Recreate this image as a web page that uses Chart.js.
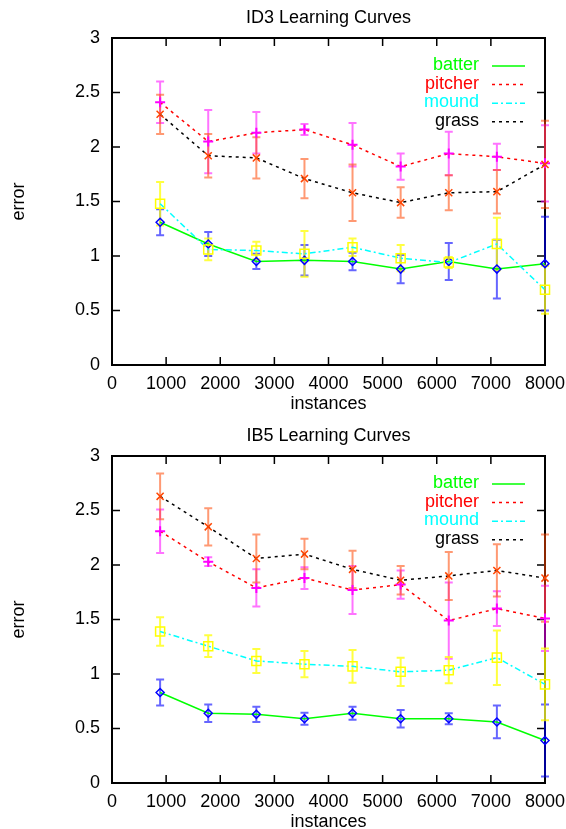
<!DOCTYPE html>
<html>
<head>
<meta charset="utf-8">
<title>Learning Curves</title>
<script src="https://cdn.jsdelivr.net/npm/chart.js@4.4.0/dist/chart.umd.min.js"></script>
<style>
	html, body { margin:0; padding:0; background:#fff; overflow:hidden; }
	.box { position:absolute; left:0; width:566px; height:418px; }
</style>
</head>
<body>
<div class="box" style="top:0"><canvas id="id3" width="566" height="418"></canvas></div>
<div class="box" style="top:418px"><canvas id="ib5" width="566" height="418"></canvas></div>
<script>
// data
var instances = [889, 1778, 2667, 3556, 4444, 5333, 6222, 7111, 8000];
var xTicks = [0, 1000, 2000, 3000, 4000, 5000, 6000, 7000, 8000];
var yTicks = [0, 0.5, 1, 1.5, 2, 2.5, 3];
var seriesNames = ['batter', 'pitcher', 'mound', 'grass'];

// ID3
var id3Batter = [1.31, 1.11, 0.95, 0.96, 0.95, 0.88, 0.95, 0.88, 0.93];
var id3BatterErr = [0.12, 0.11, 0.07, 0.14, 0.08, 0.13, 0.17, 0.27, 0.43];
var id3Pitcher = [2.41, 2.05, 2.13, 2.16, 2.02, 1.82, 1.94, 1.91, 1.85];
var id3PitcherErr = [0.19, 0.29, 0.19, 0.05, 0.2, 0.12, 0.2, 0.12, 0.35];
var id3Mound = [1.48, 1.06, 1.05, 1.02, 1.08, 0.98, 0.94, 1.11, 0.69];
var id3MoundErr = [0.2, 0.1, 0.08, 0.21, 0.08, 0.12, 0.05, 0.24, 0.22];
var id3Grass = [2.30, 1.92, 1.90, 1.71, 1.58, 1.49, 1.58, 1.59, 1.84];
var id3GrassErr = [0.18, 0.2, 0.19, 0.18, 0.26, 0.14, 0.16, 0.2, 0.4];

// IB5
var ib5Batter = [0.83, 0.64, 0.63, 0.59, 0.64, 0.59, 0.59, 0.56, 0.39];
var ib5BatterErr = [0.12, 0.08, 0.07, 0.055, 0.06, 0.08, 0.05, 0.15, 0.33];
var ib5Pitcher = [2.31, 2.03, 1.79, 1.88, 1.77, 1.82, 1.49, 1.60, 1.51];
var ib5PitcherErr = [0.2, 0.04, 0.17, 0.1, 0.22, 0.13, 0.35, 0.16, 0.3];
var ib5Mound = [1.39, 1.255, 1.12, 1.09, 1.07, 1.02, 1.035, 1.15, 0.905];
var ib5MoundErr = [0.13, 0.1, 0.11, 0.12, 0.15, 0.13, 0.12, 0.25, 0.33];
var ib5Grass = [2.63, 2.35, 2.06, 2.10, 1.96, 1.86, 1.90, 1.95, 1.88];
var ib5GrassErr = [0.21, 0.17, 0.22, 0.14, 0.17, 0.13, 0.22, 0.24, 0.4];

!(function(){
	'use strict';

	Chart.defaults.font.family = '"Liberation Sans", Arial, sans-serif';
	Chart.defaults.font.size = 18;
	Chart.defaults.color = '#000';

	function pts(vals){
		return vals.map(function(v, i){ return { x: instances[i], y: v }; });
	}

	// box with inward ticks, error bars, legend inside the plot
	var gnuplotLook = {
		id: 'gnuplotLook',
		beforeDatasetsDraw: function(chart){
			var ctx = chart.ctx, a = chart.chartArea, xs = chart.scales.x, ys = chart.scales.y;
			ctx.save();
			ctx.strokeStyle = '#000';
			ctx.lineWidth = 2;
			ctx.strokeRect(a.left, a.top, a.right - a.left, a.bottom - a.top);
			ctx.lineWidth = 1.5;
			ctx.beginPath();
			xs.ticks.forEach(function(t){
				if (t.value <= xs.min || t.value >= xs.max) return;
				var px = xs.getPixelForValue(t.value);
				ctx.moveTo(px, a.bottom); ctx.lineTo(px, a.bottom - 8);
				ctx.moveTo(px, a.top); ctx.lineTo(px, a.top + 8);
			});
			ys.ticks.forEach(function(t){
				if (t.value <= ys.min || t.value >= ys.max) return;
				var py = ys.getPixelForValue(t.value);
				ctx.moveTo(a.left, py); ctx.lineTo(a.left + 8, py);
				ctx.moveTo(a.right, py); ctx.lineTo(a.right - 8, py);
			});
			ctx.stroke();
			ctx.restore();

			// error bars go under the lines (batter first, grass last)
			chart.data.datasets.forEach(function(ds){
				ctx.save();
				ctx.strokeStyle = ds.barColor;
				ctx.lineWidth = 2;
				ds.data.forEach(function(p, i){
					var e = ds.errors[i];
					var px = xs.getPixelForValue(p.x);
					var y1 = ys.getPixelForValue(p.y + e), y2 = ys.getPixelForValue(p.y - e);
					ctx.beginPath();
					ctx.moveTo(px, y1); ctx.lineTo(px, y2);
					ctx.moveTo(px - 4, y1); ctx.lineTo(px + 4, y1);
					ctx.moveTo(px - 4, y2); ctx.lineTo(px + 4, y2);
					ctx.stroke();
				});
				ctx.restore();
			});
		},
		afterDraw: function(chart){
			var ctx = chart.ctx, a = chart.chartArea;
			ctx.save();
			// key
			ctx.font = '18px "Liberation Sans", Arial, sans-serif';
			ctx.textAlign = 'right';
			ctx.textBaseline = 'middle';
			chart.data.datasets.forEach(function(ds, i){
				var y = a.top + 27 + i * 18.6;
				ctx.fillStyle = ds.borderColor;
				ctx.fillText(ds.label, a.right - 66, y);
				ctx.strokeStyle = ds.borderColor;
				ctx.lineWidth = 1.5;
				ctx.setLineDash(ds.borderDash || []);
				ctx.beginPath();
				ctx.moveTo(a.right - 53, y + 1);
				ctx.lineTo(a.right - 20, y + 1);
				ctx.stroke();
			});
			ctx.restore();
		}
	};

	function makeChart(id, title, batter, batterErr, pitcher, pitcherErr, mound, moundErr, grass, grassErr){
		var ctx = document.getElementById(id).getContext('2d');
		return new Chart(ctx, {
			type: 'line',
			data: {
				datasets: [{
					label: seriesNames[0],
					data: pts(batter),
					errors: batterErr,
					barColor: 'rgba(0,0,255,0.6)',
					borderColor: '#00ff00',
					borderWidth: 1.5,
					pointStyle: 'rectRot',
					pointRadius: 4,
					pointBorderColor: '#0000ff',
					pointBackgroundColor: 'rgba(0,0,0,0)',
					pointBorderWidth: 1.5,
					order: 3
				}, {
					label: seriesNames[1],
					data: pts(pitcher),
					errors: pitcherErr,
					barColor: 'rgba(255,0,255,0.55)',
					borderColor: '#ff0000',
					borderWidth: 1.5,
					borderDash: [3, 4],
					pointStyle: 'cross',
					pointRadius: 5,
					pointBorderColor: '#ff00ff',
					pointBorderWidth: 2,
					order: 2
				}, {
					label: seriesNames[2],
					data: pts(mound),
					errors: moundErr,
					barColor: 'rgba(255,255,0,0.75)',
					borderColor: '#00ffff',
					borderWidth: 1.5,
					borderDash: [6, 3, 2, 3],
					pointStyle: 'rect',
					pointRadius: 6.4,
					pointBorderColor: '#ffff00',
					pointBackgroundColor: 'rgba(0,0,0,0)',
					pointBorderWidth: 1.5,
					order: 1
				}, {
					label: seriesNames[3],
					data: pts(grass),
					errors: grassErr,
					barColor: 'rgba(255,69,0,0.55)',
					borderColor: '#000000',
					borderWidth: 1.5,
					borderDash: [3, 4],
					pointStyle: 'crossRot',
					pointRadius: 5,
					pointBorderColor: '#ff4500',
					pointBorderWidth: 1.5,
					order: 0
				}]
			},
			options: {
				responsive: false,
				animation: false,
				events: [],
				clip: false,
				elements: { line: { tension: 0, fill: false } },
				layout: { padding: { left: 0, right: 21, top: 0, bottom: 0 } },
				plugins: {
					legend: { display: false },
					tooltip: { enabled: false },
					title: {
						display: true,
						text: title,
						fullSize: false,
						font: { size: 18, weight: 'normal' },
						color: '#000',
						padding: { top: 7, bottom: 9.4 }
					}
				},
				scales: {
					x: {
						type: 'linear',
						min: 0,
						max: 8000,
						afterBuildTicks: function(s){ s.ticks = xTicks.map(function(v){ return { value: v }; }); },
						afterFit: function(s){ s.height = 53; s.paddingLeft = 0; s.paddingRight = 0; },
						ticks: { padding: 8, maxRotation: 0, autoSkip: false, color: '#000',
							callback: function(v){ return String(v); } },
						grid: { display: false, drawTicks: false },
						border: { display: false },
						title: { display: true, text: 'instances', color: '#000', font: { size: 18 }, padding: { top: 0, bottom: 3 } }
					},
					y: {
						min: 0,
						max: 3,
						afterBuildTicks: function(s){ s.ticks = yTicks.map(function(v){ return { value: v }; }); },
						afterFit: function(s){ s.width = 112; },
						ticks: { padding: 12, color: '#000',
							callback: function(v){ return String(v); } },
						grid: { display: false, drawTicks: false },
						border: { display: false },
						title: { display: true, text: 'error', color: '#000', font: { size: 18 }, padding: { top: 8, bottom: 0 } }
					}
				}
			},
			plugins: [gnuplotLook]
		});
	}

	makeChart('id3', 'ID3 Learning Curves', id3Batter, id3BatterErr, id3Pitcher, id3PitcherErr, id3Mound, id3MoundErr, id3Grass, id3GrassErr);
	makeChart('ib5', 'IB5 Learning Curves', ib5Batter, ib5BatterErr, ib5Pitcher, ib5PitcherErr, ib5Mound, ib5MoundErr, ib5Grass, ib5GrassErr);
})();
</script>
</body>
</html>
